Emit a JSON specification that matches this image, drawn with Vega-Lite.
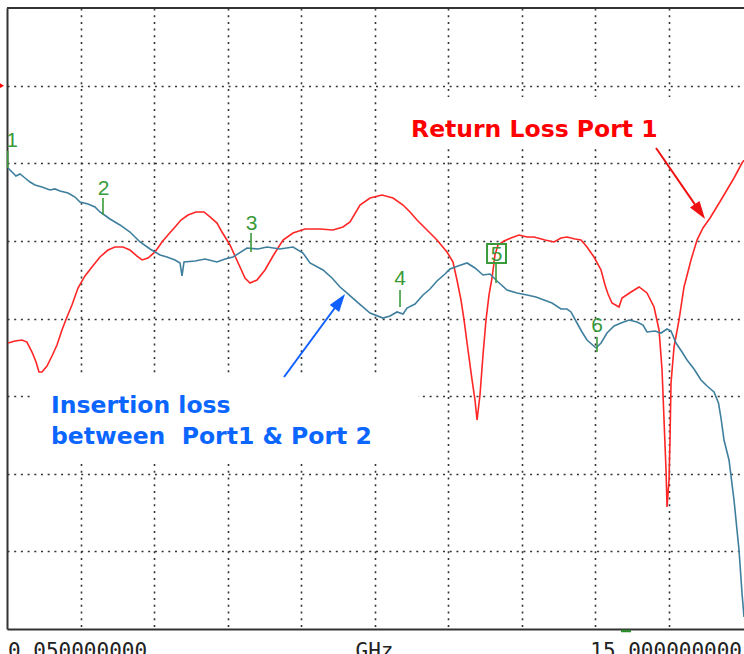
{
  "$schema": "https://vega.github.io/schema/vega-lite/v6.json",
  "autosize": "none",
  "width": 737,
  "height": 621,
  "padding": {"left": 7, "top": 8, "right": 0, "bottom": 25},
  "background": "white",
  "config": {"view": {"stroke": null}},
  "datasets": {
    "ins": [
      {"x":0.014,"y":5.939},{"x":0.068,"y":5.887},{"x":0.122,"y":5.836},{"x":0.177,"y":5.862},{"x":0.245,"y":5.810},{"x":0.313,"y":5.758},{"x":0.381,"y":5.720},{"x":0.476,"y":5.694},{"x":0.585,"y":5.655},{"x":0.653,"y":5.669},{"x":0.721,"y":5.643},{"x":0.830,"y":5.617},{"x":0.925,"y":5.565},{"x":0.993,"y":5.501},{"x":1.102,"y":5.475},{"x":1.197,"y":5.436},{"x":1.265,"y":5.372},{"x":1.306,"y":5.346},{"x":1.401,"y":5.282},{"x":1.537,"y":5.205},{"x":1.673,"y":5.114},{"x":1.810,"y":4.986},{"x":1.946,"y":4.895},{"x":2.082,"y":4.818},{"x":2.177,"y":4.792},{"x":2.286,"y":4.754},{"x":2.354,"y":4.715},{"x":2.381,"y":4.548},{"x":2.408,"y":4.728},{"x":2.558,"y":4.741},{"x":2.694,"y":4.766},{"x":2.857,"y":4.728},{"x":2.966,"y":4.766},{"x":3.075,"y":4.792},{"x":3.265,"y":4.908},{"x":3.415,"y":4.895},{"x":3.537,"y":4.921},{"x":3.714,"y":4.895},{"x":3.891,"y":4.921},{"x":4.027,"y":4.844},{"x":4.122,"y":4.715},{"x":4.299,"y":4.625},{"x":4.422,"y":4.522},{"x":4.531,"y":4.406},{"x":4.639,"y":4.316},{"x":4.762,"y":4.213},{"x":4.939,"y":4.071},{"x":5.116,"y":4.006},{"x":5.211,"y":4.032},{"x":5.306,"y":4.084},{"x":5.388,"y":4.058},{"x":5.442,"y":4.135},{"x":5.551,"y":4.187},{"x":5.660,"y":4.303},{"x":5.755,"y":4.380},{"x":5.850,"y":4.483},{"x":5.959,"y":4.573},{"x":6.027,"y":4.638},{"x":6.136,"y":4.676},{"x":6.259,"y":4.715},{"x":6.367,"y":4.651},{"x":6.476,"y":4.560},{"x":6.571,"y":4.573},{"x":6.667,"y":4.483},{"x":6.803,"y":4.367},{"x":6.939,"y":4.329},{"x":7.075,"y":4.303},{"x":7.197,"y":4.277},{"x":7.306,"y":4.238},{"x":7.415,"y":4.200},{"x":7.537,"y":4.122},{"x":7.619,"y":4.122},{"x":7.673,"y":4.084},{"x":7.755,"y":3.942},{"x":7.823,"y":3.826},{"x":7.891,"y":3.723},{"x":8.014,"y":3.620},{"x":8.082,"y":3.684},{"x":8.163,"y":3.813},{"x":8.259,"y":3.903},{"x":8.354,"y":3.942},{"x":8.463,"y":3.981},{"x":8.571,"y":3.955},{"x":8.653,"y":3.916},{"x":8.707,"y":3.826},{"x":8.816,"y":3.839},{"x":8.898,"y":3.813},{"x":8.980,"y":3.865},{"x":9.034,"y":3.839},{"x":9.102,"y":3.684},{"x":9.184,"y":3.568},{"x":9.252,"y":3.465},{"x":9.347,"y":3.349},{"x":9.442,"y":3.208},{"x":9.524,"y":3.130},{"x":9.619,"y":3.053},{"x":9.680,"y":2.911},{"x":9.714,"y":2.718},{"x":9.755,"y":2.435},{"x":9.823,"y":2.177},{"x":9.891,"y":1.662},{"x":9.959,"y":1.018},{"x":10.0,"y":0.464},{"x":10.027,"y":0.155}
    ],
    "ret": [
      {"x":0.014,"y":3.684},{"x":0.109,"y":3.710},{"x":0.204,"y":3.723},{"x":0.272,"y":3.697},{"x":0.340,"y":3.568},{"x":0.395,"y":3.439},{"x":0.435,"y":3.311},{"x":0.476,"y":3.311},{"x":0.544,"y":3.388},{"x":0.612,"y":3.517},{"x":0.680,"y":3.659},{"x":0.748,"y":3.852},{"x":0.816,"y":4.019},{"x":0.884,"y":4.174},{"x":0.966,"y":4.393},{"x":1.061,"y":4.548},{"x":1.156,"y":4.663},{"x":1.265,"y":4.792},{"x":1.374,"y":4.882},{"x":1.469,"y":4.921},{"x":1.578,"y":4.921},{"x":1.673,"y":4.882},{"x":1.769,"y":4.805},{"x":1.837,"y":4.754},{"x":1.918,"y":4.779},{"x":2.014,"y":4.857},{"x":2.109,"y":4.986},{"x":2.190,"y":5.076},{"x":2.286,"y":5.179},{"x":2.367,"y":5.269},{"x":2.463,"y":5.333},{"x":2.571,"y":5.372},{"x":2.680,"y":5.372},{"x":2.762,"y":5.308},{"x":2.857,"y":5.230},{"x":2.925,"y":5.114},{"x":3.034,"y":4.947},{"x":3.170,"y":4.663},{"x":3.238,"y":4.522},{"x":3.306,"y":4.457},{"x":3.401,"y":4.496},{"x":3.510,"y":4.625},{"x":3.619,"y":4.805},{"x":3.755,"y":5.011},{"x":3.891,"y":5.101},{"x":4.054,"y":5.153},{"x":4.259,"y":5.153},{"x":4.435,"y":5.140},{"x":4.571,"y":5.179},{"x":4.667,"y":5.243},{"x":4.803,"y":5.462},{"x":4.939,"y":5.552},{"x":5.102,"y":5.591},{"x":5.252,"y":5.552},{"x":5.388,"y":5.462},{"x":5.483,"y":5.372},{"x":5.578,"y":5.269},{"x":5.714,"y":5.140},{"x":5.850,"y":5.011},{"x":5.986,"y":4.857},{"x":6.068,"y":4.728},{"x":6.122,"y":4.496},{"x":6.177,"y":4.238},{"x":6.218,"y":3.981},{"x":6.272,"y":3.594},{"x":6.327,"y":3.208},{"x":6.367,"y":2.950},{"x":6.395,"y":2.692},{"x":6.435,"y":3.014},{"x":6.476,"y":3.530},{"x":6.517,"y":3.981},{"x":6.558,"y":4.303},{"x":6.599,"y":4.522},{"x":6.639,"y":4.818},{"x":6.680,"y":4.947},{"x":6.762,"y":4.998},{"x":6.857,"y":5.037},{"x":6.966,"y":5.076},{"x":7.075,"y":5.050},{"x":7.170,"y":5.050},{"x":7.320,"y":5.011},{"x":7.442,"y":4.986},{"x":7.537,"y":5.037},{"x":7.619,"y":5.050},{"x":7.728,"y":5.024},{"x":7.810,"y":5.011},{"x":7.891,"y":4.921},{"x":7.986,"y":4.792},{"x":8.082,"y":4.625},{"x":8.136,"y":4.432},{"x":8.177,"y":4.316},{"x":8.231,"y":4.200},{"x":8.327,"y":4.148},{"x":8.367,"y":4.264},{"x":8.490,"y":4.341},{"x":8.599,"y":4.406},{"x":8.707,"y":4.329},{"x":8.803,"y":4.148},{"x":8.871,"y":3.852},{"x":8.912,"y":3.337},{"x":8.939,"y":2.692},{"x":8.966,"y":2.048},{"x":8.980,"y":1.572},{"x":9.007,"y":1.919},{"x":9.020,"y":2.435},{"x":9.034,"y":3.169},{"x":9.075,"y":3.633},{"x":9.143,"y":3.981},{"x":9.211,"y":4.406},{"x":9.306,"y":4.754},{"x":9.388,"y":5.011},{"x":9.469,"y":5.166},{"x":9.565,"y":5.295},{"x":9.714,"y":5.527},{"x":9.891,"y":5.810},{"x":10.0,"y":6.003},{"x":10.027,"y":6.04}
    ],
    "ticks": [
      {"x":0.01,"y":6.158,"y2":5.939},{"x":1.306,"y":5.552,"y2":5.333},{"x":3.320,"y":5.101,"y2":4.857},{"x":5.347,"y":4.367,"y2":4.148},{"x":6.653,"y":4.715,"y2":4.457},{"x":8.027,"y":3.762,"y2":3.568}
    ],
    "mlabels": [
      {"x":0.068,"y":6.209,"label":"1"},{"x":1.313,"y":5.591,"label":"2"},{"x":3.327,"y":5.140,"label":"3"},{"x":5.347,"y":4.432,"label":"4"},{"x":6.660,"y":4.735,"label":"5"},{"x":8.027,"y":3.826,"label":"6"}
    ]
  },
  "encoding": {
    "x": {"field": "x", "type": "quantitative", "scale": {"domain": [0, 10.027], "nice": false, "zero": false},
      "axis": {"values": [1,2,3,4,5,6,7,8,9], "grid": true, "labels": false, "ticks": false, "title": null, "domain": true, "domainColor": "#333", "domainWidth": 2, "gridDash": [2, 4.7], "gridColor": "#333", "gridWidth": 1.6}},
    "y": {"field": "y", "type": "quantitative", "scale": {"domain": [0, 8], "nice": false, "zero": false},
      "axis": {"values": [1,2,3,4,5,6,7], "grid": true, "labels": false, "ticks": false, "title": null, "domain": true, "domainColor": "#333", "domainWidth": 2, "gridDash": [2, 4.7], "gridColor": "#333", "gridWidth": 1.6}}
  },
  "layer": [
    {"data": {"values": [{"x":5.238,"x2":9.429,"y":6.853,"y2":6.184},{"x":0.354,"x2":5.592,"y":3.272,"y2":2.164}]},
     "mark": {"type": "rect", "fill": "white", "stroke": null},
     "encoding": {"x2": {"field": "x2"}, "y2": {"field": "y2"}}},
    {"data": {"values": [{"x":0,"x2":10.027,"y":8}]},
     "mark": {"type": "rule", "color": "#333", "strokeWidth": 2},
     "encoding": {"x2": {"field": "x2"}}},
    {"data": {"name": "ret"}, "mark": {"type": "line", "color": "#ff2626", "strokeWidth": 1.6, "clip": true}, "encoding": {"order": {"value": 0}}},
    {"data": {"name": "ins"}, "mark": {"type": "line", "color": "#3f7f9e", "strokeWidth": 1.6, "clip": true}, "encoding": {"order": {"value": 0}}},
    {"data": {"name": "ticks"}, "mark": {"type": "rule", "color": "#3a9a3a", "strokeWidth": 1.6}, "encoding": {"y2": {"field": "y2"}}},
    {"data": {"name": "mlabels"}, "mark": {"type": "text", "color": "#3a9a3a", "font": "Liberation Sans", "fontSize": 21, "align": "center", "baseline": "alphabetic"}, "encoding": {"text": {"field": "label"}}},
    {"data": {"values": [{"x":6.531,"x2":6.789,"y":4.960,"y2":4.715}]},
     "mark": {"type": "rect", "fill": null, "fillOpacity": 0, "stroke": "#3a9a3a", "strokeWidth": 2},
     "encoding": {"x2": {"field": "x2"}, "y2": {"field": "y2"}}},
    {"data": {"values": [{"x":8.830,"y":6.197,"x2":9.427,"y2":5.377}]},
     "mark": {"type": "rule", "color": "#ee1111", "strokeWidth": 2},
     "encoding": {"x2": {"field": "x2"}, "y2": {"field": "y2"}}},
    {"data": {"values": [{"x":9.427,"y":5.377}]},
     "mark": {"type": "point", "filled": true, "shape": "M0,-1L0.65,1L-0.65,1Z", "size": 324, "angle": 145, "color": "#ee1111", "opacity": 1}},
    {"data": {"values": [{"x":3.769,"y":3.246,"x2":4.527,"y2":4.222}]},
     "mark": {"type": "rule", "color": "#1060ff", "strokeWidth": 2},
     "encoding": {"x2": {"field": "x2"}, "y2": {"field": "y2"}}},
    {"data": {"values": [{"x":4.527,"y":4.222}]},
     "mark": {"type": "point", "filled": true, "shape": "M0,-1L0.65,1L-0.65,1Z", "size": 324, "angle": 36, "color": "#1060ff", "opacity": 1}},
    {"data": {"values": [{"x":5.497,"y":6.338,"label":"Return Loss Port 1"}]},
     "mark": {"type": "text", "color": "#ff0000", "font": "DejaVu Sans", "fontWeight": "bold", "fontSize": 23.5, "align": "left", "baseline": "alphabetic"},
     "encoding": {"text": {"field": "label"}}},
    {"data": {"values": [{"x":0.599,"y":2.783,"label":"Insertion loss"},{"x":0.599,"y":2.383,"label":"between\u00a0 Port1 & Port 2"}]},
     "mark": {"type": "text", "color": "#0a66ff", "font": "DejaVu Sans", "fontWeight": "bold", "fontSize": 23.5, "align": "left", "baseline": "alphabetic"},
     "encoding": {"text": {"field": "label"}}},
    {"data": {"values": [{"x":0.0136,"y":-0.155,"label":"0.050000000"}]},
     "mark": {"type": "text", "color": "#222", "font": "DejaVu Sans Mono", "fontSize": 21, "align": "left", "baseline": "top"},
     "encoding": {"text": {"field": "label"}}},
    {"data": {"values": [{"x":5.0,"y":-0.155,"label":"GHz"}]},
     "mark": {"type": "text", "color": "#222", "font": "DejaVu Sans Mono", "fontSize": 21, "align": "center", "baseline": "top"},
     "encoding": {"text": {"field": "label"}}},
    {"data": {"values": [{"x":10.0,"y":-0.155,"label":"15.000000000"}]},
     "mark": {"type": "text", "color": "#222", "font": "DejaVu Sans Mono", "fontSize": 21, "align": "right", "baseline": "top"},
     "encoding": {"text": {"field": "label"}}},
    {"data": {"values": [{"x":-0.082,"y":7}]},
     "mark": {"type": "point", "filled": true, "shape": "triangle-right", "size": 50, "color": "#ff0000", "opacity": 1}},
    {"data": {"values": [{"x":8.354,"x2":8.490,"y":-0.026}]},
     "mark": {"type": "rule", "color": "#2e8b2e", "strokeWidth": 2.5},
     "encoding": {"x2": {"field": "x2"}}}
  ]
}
